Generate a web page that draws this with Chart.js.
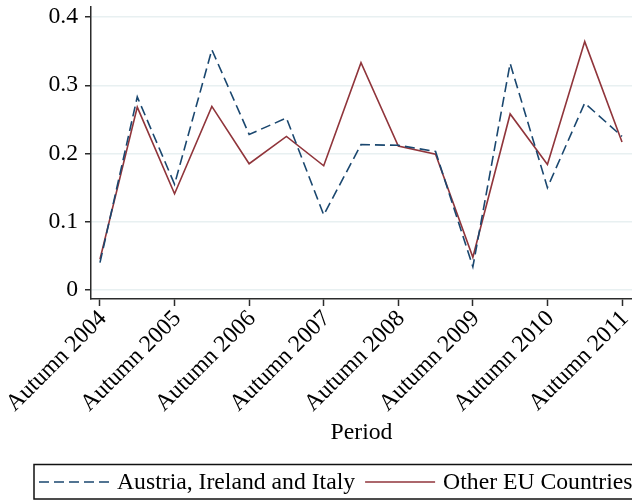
<!DOCTYPE html>
<html>
<head>
<meta charset="utf-8">
<script src="https://cdn.jsdelivr.net/npm/chart.js@4/dist/chart.umd.min.js"></script>
<style>
  html, body { margin: 0; padding: 0; background: #fff; }
  #wrap { width: 632px; height: 502px; overflow: hidden; }
</style>
</head>
<body>
<div id="wrap"><canvas id="c" width="632" height="502"></canvas></div>
<script>
// Survey waves (spring and autumn Eurobarometer rounds)
const periods = [
  "Autumn 2004", "Spring 2005", "Autumn 2005", "Spring 2006", "Autumn 2006",
  "Spring 2007", "Autumn 2007", "Spring 2008", "Autumn 2008", "Spring 2009",
  "Autumn 2009", "Spring 2010", "Autumn 2010", "Spring 2011", "Autumn 2011"
];

// Share per wave, by country group
const austriaIrelandItaly = [0.040, 0.283, 0.155, 0.352, 0.228, 0.252, 0.110, 0.213, 0.212, 0.203, 0.034, 0.332, 0.150, 0.274, 0.225];
const otherEUCountries    = [0.045, 0.268, 0.141, 0.269, 0.185, 0.225, 0.182, 0.333, 0.211, 0.199, 0.048, 0.258, 0.184, 0.364, 0.217];

// Axis ticks
const yTickValues = [0, 0.1, 0.2, 0.3, 0.4];
const xTickIndices = [0, 2, 4, 6, 8, 10, 12, 14];

const SERIF = "'Liberation Serif', 'Times New Roman', Times, serif";
const FONT_SIZE = 23.7;
const AXIS_COLOR = '#2b2b2b';
const GRID_COLOR = '#e8f0f1';

const toPoints = arr => arr.map((v, i) => ({ x: i, y: v }));

// Legend drawn below the plot, framed by a box
const framedLegend = {
  id: 'framedLegend',
  afterDraw(chart, args, opts) {
    const ctx = chart.ctx;
    ctx.save();
    ctx.lineWidth = 1.5;
    ctx.strokeStyle = '#111';
    ctx.setLineDash([]);
    ctx.strokeRect(opts.boxLeft, opts.boxTop, opts.boxWidth, opts.boxHeight);
    ctx.font = FONT_SIZE + 'px ' + SERIF;
    ctx.textBaseline = 'middle';
    ctx.textAlign = 'left';
    ctx.fillStyle = '#000';
    let x = opts.startX;
    const y = opts.centerY;
    chart.data.datasets.forEach(ds => {
      ctx.save();
      ctx.strokeStyle = ds.borderColor;
      ctx.lineWidth = ds.borderWidth;
      ctx.setLineDash(ds.borderDash || []);
      ctx.beginPath();
      ctx.moveTo(x, y);
      ctx.lineTo(x + opts.sampleWidth, y);
      ctx.stroke();
      ctx.restore();
      x += opts.sampleWidth + opts.sampleGap;
      ctx.fillText(ds.label, x, y + 1);
      x += ctx.measureText(ds.label).width + opts.itemGap;
    });
    ctx.restore();
  }
};

new Chart(document.getElementById('c'), {
  type: 'line',
  data: {
    datasets: [
      {
        label: 'Austria, Ireland and Italy',
        data: toPoints(austriaIrelandItaly),
        borderColor: '#1a476f',
        borderWidth: 1.6,
        borderDash: [10, 5],
        pointRadius: 0,
        tension: 0,
        fill: false
      },
      {
        label: 'Other EU Countries',
        data: toPoints(otherEUCountries),
        borderColor: '#90353b',
        borderWidth: 1.6,
        pointRadius: 0,
        tension: 0,
        fill: false
      }
    ]
  },
  options: {
    responsive: false,
    animation: false,
    events: [],
    layout: { padding: { top: 7, left: 0, right: 0, bottom: 0 } },
    plugins: {
      legend: { display: false },
      tooltip: { enabled: false },
      framedLegend: {
        boxLeft: 34, boxTop: 464.5, boxWidth: 640, boxHeight: 34.5,
        startX: 39, centerY: 482, sampleWidth: 70, sampleGap: 8, itemGap: 10
      }
    },
    scales: {
      x: {
        type: 'linear',
        min: -0.241,
        max: 14.268,
        afterBuildTicks: scale => { scale.ticks = xTickIndices.map(v => ({ value: v })); },
        afterFit: scale => {
          scale.height = 203;
          scale.paddingLeft = 0;
          scale.paddingRight = 0;
        },
        border: { display: true, color: AXIS_COLOR, width: 1.5 },
        grid: { drawOnChartArea: false, drawTicks: true, tickLength: 7, tickColor: AXIS_COLOR, tickWidth: 1.5 },
        ticks: {
          autoSkip: false,
          minRotation: 45,
          maxRotation: 45,
          padding: -1,
          labelOffset: 3,
          color: '#000',
          font: { family: SERIF, size: FONT_SIZE },
          callback: v => periods[v]
        },
        title: {
          display: true,
          text: 'Period',
          color: '#000',
          font: { family: SERIF, size: FONT_SIZE },
          padding: { top: 0, bottom: 55 }
        }
      },
      y: {
        min: -0.0132,
        max: 0.4147,
        afterBuildTicks: scale => { scale.ticks = yTickValues.map(v => ({ value: v })); },
        afterFit: scale => {
          scale.width = 91;
          scale.paddingTop = 0;
          scale.paddingBottom = 0;
        },
        border: { display: true, color: AXIS_COLOR, width: 1.5 },
        grid: { color: GRID_COLOR, lineWidth: 1.5, drawTicks: true, tickLength: 6, tickColor: AXIS_COLOR, tickWidth: 1.5 },
        ticks: {
          padding: 7,
          color: '#000',
          font: { family: SERIF, size: FONT_SIZE },
          callback: v => String(Math.round(v * 10) / 10)
        }
      }
    }
  },
  plugins: [framedLegend]
});
</script>
</body>
</html>
